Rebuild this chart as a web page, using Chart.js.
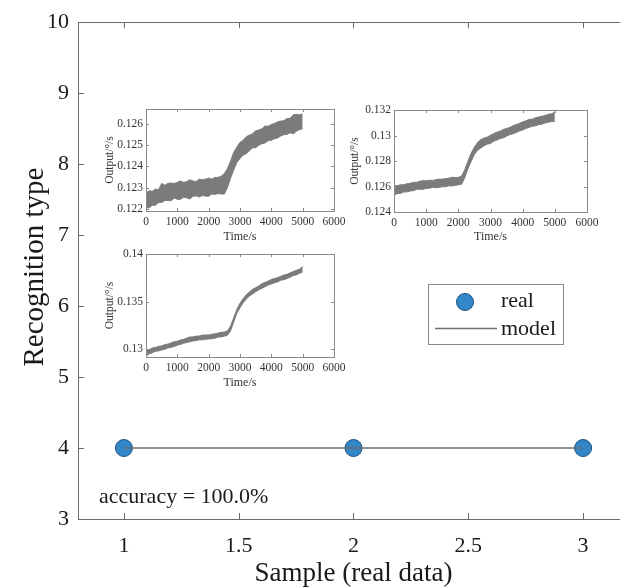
<!DOCTYPE html>
<html><head><meta charset="utf-8">
<script src="https://cdn.jsdelivr.net/npm/chart.js@4.4.1/dist/chart.umd.min.js"></script>
<style>
html,body{margin:0;padding:0;background:#fff;width:620px;height:588px;overflow:hidden;position:relative}
canvas{position:absolute}
</style></head><body>
<canvas id="main" width="640" height="588" style="left:0;top:0"></canvas>
<canvas id="in1" width="270" height="160" style="left:95px;top:95px"></canvas>
<canvas id="in2" width="270" height="160" style="left:345px;top:95px"></canvas>
<canvas id="in3" width="270" height="160" style="left:95px;top:240px"></canvas>
<script>
// ---------- main chart data ----------
const sampleIndex = [1, 2, 3];
const realType = [4, 4, 4];
const modelType = [4, 4, 4];
const xTickValues = [1, 1.5, 2, 2.5, 3];
const yTickValues = [3, 4, 5, 6, 7, 8, 9, 10];
const legendLabels = ['real', 'model'];
const accuracyLabel = 'accuracy = 100.0%';
const xAxisTitle = 'Sample (real data)';
const yAxisTitle = 'Recognition type';

// ---------- inset data (time in s, output in °/s) ----------
const insetTime = [0,100,200,300,400,500,600,700,800,900,1000,1100,1200,1300,1400,1500,1600,1700,1800,1900,2000,2100,2200,2300,2400,2500,2600,2700,2800,2900,3000,3100,3200,3300,3400,3500,3600,3700,3800,3900,4000,4100,4200,4300,4400,4500,4600,4700,4800,4900,5000];
const insetXTicks = [0, 1000, 2000, 3000, 4000, 5000, 6000];

const inset1Center = [0.12240,0.12245,0.12250,0.12255,0.12260,0.12275,0.12275,0.12280,0.12280,0.12285,0.12285,0.12288,0.12290,0.12290,0.12292,0.12295,0.12295,0.12298,0.12300,0.12300,0.12302,0.12305,0.12308,0.12310,0.12312,0.12318,0.12345,0.12385,0.12425,0.12455,0.12475,0.12488,0.12500,0.12510,0.12520,0.12528,0.12535,0.12542,0.12550,0.12555,0.12560,0.12566,0.12572,0.12578,0.12582,0.12588,0.12592,0.12598,0.12605,0.12608,0.12612];
const inset1Spread = [0.00035,0.00040,0.00033,0.00038,0.00030,0.00045,0.00036,0.00040,0.00042,0.00034,0.00040,0.00043,0.00035,0.00038,0.00045,0.00036,0.00034,0.00042,0.00037,0.00040,0.00043,0.00035,0.00040,0.00038,0.00042,0.00048,0.00045,0.00040,0.00042,0.00036,0.00038,0.00035,0.00040,0.00037,0.00033,0.00040,0.00036,0.00035,0.00040,0.00034,0.00037,0.00036,0.00038,0.00035,0.00033,0.00037,0.00034,0.00045,0.00040,0.00035,0.00035];
const inset1YTicks = [0.122, 0.123, 0.124, 0.125, 0.126];

const inset2Center = [0.12570,0.12575,0.12580,0.12585,0.12590,0.12595,0.12600,0.12605,0.12610,0.12612,0.12615,0.12618,0.12620,0.12622,0.12625,0.12628,0.12630,0.12635,0.12638,0.12640,0.12642,0.12650,0.12700,0.12770,0.12830,0.12880,0.12915,0.12935,0.12950,0.12960,0.12970,0.12985,0.12995,0.13005,0.13015,0.13025,0.13035,0.13045,0.13055,0.13065,0.13075,0.13085,0.13095,0.13100,0.13108,0.13115,0.13120,0.13128,0.13135,0.13140,0.13148];
const inset2Spread = [0.00036,0.00031,0.00034,0.00028,0.00032,0.00030,0.00033,0.00028,0.00031,0.00034,0.00030,0.00032,0.00028,0.00031,0.00033,0.00029,0.00032,0.00030,0.00034,0.00031,0.00029,0.00032,0.00031,0.00030,0.00032,0.00029,0.00031,0.00033,0.00030,0.00028,0.00032,0.00030,0.00031,0.00029,0.00033,0.00030,0.00028,0.00032,0.00031,0.00029,0.00032,0.00030,0.00031,0.00028,0.00032,0.00030,0.00031,0.00029,0.00032,0.00030,0.00036];
const inset2YTicks = [0.124, 0.126, 0.128, 0.13, 0.132];

const inset3Center = [0.12960,0.12975,0.12990,0.13000,0.13008,0.13015,0.13025,0.13035,0.13045,0.13055,0.13065,0.13075,0.13085,0.13095,0.13105,0.13110,0.13115,0.13120,0.13125,0.13128,0.13130,0.13135,0.13140,0.13150,0.13155,0.13160,0.13170,0.13220,0.13310,0.13400,0.13460,0.13510,0.13550,0.13580,0.13605,0.13625,0.13645,0.13665,0.13680,0.13695,0.13710,0.13720,0.13730,0.13745,0.13755,0.13765,0.13780,0.13795,0.13805,0.13820,0.13840];
const inset3Spread = [0.00030,0.00022,0.00025,0.00020,0.00024,0.00021,0.00025,0.00020,0.00023,0.00026,0.00021,0.00024,0.00020,0.00023,0.00025,0.00021,0.00024,0.00020,0.00025,0.00022,0.00021,0.00024,0.00023,0.00021,0.00024,0.00022,0.00023,0.00025,0.00022,0.00020,0.00024,0.00022,0.00023,0.00021,0.00025,0.00022,0.00020,0.00024,0.00023,0.00021,0.00024,0.00022,0.00023,0.00020,0.00024,0.00022,0.00023,0.00021,0.00024,0.00022,0.00028];
const inset3YTicks = [0.13, 0.135, 0.14];

const SERIF = "'Liberation Serif', 'Times New Roman', serif";
const AXIS_COLOR = '#6a6a6a';
const MARKER_FILL = '#3287c9';
const MARKER_EDGE = '#1d4e7c';
const LINE_COLOR = '#6e6e6e';

// ---------- main chart ----------
const mainFrame = {
  id: 'mainFrame',
  afterDraw(chart) {
    const ctx = chart.ctx, a = chart.chartArea, xs = chart.scales.x, ys = chart.scales.y;
    ctx.save();
    ctx.strokeStyle = AXIS_COLOR; ctx.lineWidth = 1;
    ctx.strokeRect(Math.round(a.left) + 0.5, Math.round(a.top) + 0.5, Math.round(a.right - a.left), Math.round(a.bottom - a.top));
    ctx.beginPath();
    xTickValues.forEach(v => {
      const px = Math.round(xs.getPixelForValue(v)) + 0.5;
      ctx.moveTo(px, a.bottom); ctx.lineTo(px, a.bottom - 6);
      ctx.moveTo(px, a.top); ctx.lineTo(px, a.top + 6);
    });
    yTickValues.forEach(v => {
      const py = Math.round(ys.getPixelForValue(v)) + 0.5;
      ctx.moveTo(a.left, py); ctx.lineTo(a.left + 6, py);
      ctx.moveTo(a.right, py); ctx.lineTo(a.right - 6, py);
    });
    ctx.stroke();

    // axis titles
    ctx.fillStyle = '#1a1a1a';
    ctx.textAlign = 'center'; ctx.textBaseline = 'middle';
    ctx.font = '27px ' + SERIF;
    ctx.fillText(xAxisTitle, xs.getPixelForValue(2), 574);
    ctx.save();
    ctx.translate(35, ys.getPixelForValue(6.55));
    ctx.rotate(-Math.PI / 2);
    ctx.font = '29px ' + SERIF;
    ctx.fillText(yAxisTitle, 0, 0);
    ctx.restore();

    // accuracy text
    ctx.font = '22px ' + SERIF;
    ctx.textAlign = 'left';
    ctx.fillText(accuracyLabel, 99, 497);

    // legend
    const lx = 428, ly = 284, lw = 135, lh = 60;
    ctx.fillStyle = '#fff';
    ctx.fillRect(lx, ly, lw, lh);
    ctx.strokeStyle = '#8a8a8a';
    ctx.strokeRect(lx + 0.5, ly + 0.5, lw, lh);
    ctx.beginPath();
    ctx.arc(465, 302, 8.5, 0, Math.PI * 2);
    ctx.fillStyle = MARKER_FILL; ctx.fill();
    ctx.strokeStyle = MARKER_EDGE; ctx.lineWidth = 1; ctx.stroke();
    ctx.beginPath();
    ctx.moveTo(435, 328.5); ctx.lineTo(497, 328.5);
    ctx.strokeStyle = LINE_COLOR; ctx.lineWidth = 1.5; ctx.stroke();
    ctx.fillStyle = '#1a1a1a';
    ctx.font = '22px ' + SERIF;
    ctx.textAlign = 'left'; ctx.textBaseline = 'middle';
    ctx.fillText(legendLabels[0], 501, 301);
    ctx.fillText(legendLabels[1], 501, 329);
    ctx.restore();
  }
};

new Chart(document.getElementById('main'), {
  type: 'scatter',
  data: {
    datasets: [
      { label: legendLabels[1], data: sampleIndex.map((x, i) => ({ x, y: modelType[i] })),
        showLine: true, borderColor: LINE_COLOR, borderWidth: 1.5, pointRadius: 0, tension: 0 },
      { label: legendLabels[0], data: sampleIndex.map((x, i) => ({ x, y: realType[i] })),
        showLine: false, pointRadius: 8.5, pointBackgroundColor: MARKER_FILL,
        pointBorderColor: MARKER_EDGE, pointBorderWidth: 1 }
    ]
  },
  options: {
    responsive: false, animation: false, devicePixelRatio: 1,
    layout: { padding: { top: 21, right: 11, left: 0, bottom: 0 } },
    plugins: { legend: { display: false }, tooltip: { enabled: false } },
    scales: {
      x: {
        type: 'linear', min: 0.8, max: 3.2,
        afterBuildTicks: s => { s.ticks = xTickValues.map(v => ({ value: v })); },
        afterFit: s => { s.height = 69; },
        grid: { display: false, drawTicks: false },
        border: { display: false },
        ticks: { font: { family: SERIF, size: 22 }, color: '#1a1a1a', padding: 14, maxRotation: 0,
          callback: v => String(v) }
      },
      y: {
        min: 3, max: 10,
        afterBuildTicks: s => { s.ticks = yTickValues.map(v => ({ value: v })); },
        afterFit: s => { s.width = 78; },
        grid: { display: false, drawTicks: false },
        border: { display: false },
        ticks: { font: { family: SERIF, size: 22 }, color: '#1a1a1a', padding: 9,
          callback: v => String(v) }
      }
    }
  },
  plugins: [mainFrame]
});

// ---------- insets ----------
function insetFrame(titleX, titleXY) {
  return {
    id: 'insetFrame',
    afterDraw(chart) {
      const ctx = chart.ctx, a = chart.chartArea, xs = chart.scales.x, ys = chart.scales.y;
      ctx.save();
      ctx.strokeStyle = '#8a8a8a'; ctx.lineWidth = 1;
      ctx.strokeRect(Math.round(a.left) + 0.5, Math.round(a.top) + 0.5, Math.round(a.right - a.left), Math.round(a.bottom - a.top));
      ctx.beginPath();
      xs.ticks.forEach(t => {
        const px = Math.round(xs.getPixelForValue(t.value)) + 0.5;
        ctx.moveTo(px, a.bottom); ctx.lineTo(px, a.bottom - 3);
        ctx.moveTo(px, a.top); ctx.lineTo(px, a.top + 3);
      });
      ys.ticks.forEach(t => {
        const py = Math.round(ys.getPixelForValue(t.value)) + 0.5;
        ctx.moveTo(a.left, py); ctx.lineTo(a.left + 3, py);
        ctx.moveTo(a.right, py); ctx.lineTo(a.right - 3, py);
      });
      ctx.stroke();
      ctx.fillStyle = '#333';
      ctx.textAlign = 'center'; ctx.textBaseline = 'middle';
      ctx.font = '12px ' + SERIF;
      ctx.fillText('Time/s', (a.left + a.right) / 2, titleXY);
      ctx.save();
      ctx.translate(titleX, (a.top + a.bottom) / 2);
      ctx.rotate(-Math.PI / 2);
      ctx.font = '11.5px ' + SERIF;
      ctx.fillText('Output/°/s', 0, 0);
      ctx.restore();
      ctx.restore();
    }
  };
}

function makeInset(id, center, spread, yMin, yMax, yTicks, spec) {
  const upper = center.map((v, i) => ({ x: insetTime[i], y: v + spread[i] }));
  const lower = center.map((v, i) => ({ x: insetTime[i], y: v - spread[i] }));
  new Chart(document.getElementById(id), {
    type: 'line',
    data: {
      datasets: [
        { data: upper, borderColor: '#7b7b7b', backgroundColor: '#7b7b7b', borderWidth: 1, pointRadius: 0, fill: false, tension: 0 },
        { data: lower, borderColor: '#7b7b7b', backgroundColor: '#7b7b7b', borderWidth: 1, pointRadius: 0, fill: '-1', tension: 0 }
      ]
    },
    options: {
      responsive: false, animation: false, devicePixelRatio: 1,
      layout: { padding: { top: spec.padTop, right: spec.padRight, left: 0, bottom: 0 } },
      plugins: { legend: { display: false }, tooltip: { enabled: false }, filler: { propagate: false } },
      scales: {
        x: {
          type: 'linear', min: 0, max: 6000,
          afterBuildTicks: s => { s.ticks = insetXTicks.map(v => ({ value: v })); },
          afterFit: s => { s.height = spec.xHeight; },
          grid: { display: false, drawTicks: false }, border: { display: false },
          ticks: { font: { family: SERIF, size: 11.5 }, color: '#333', padding: 4, maxRotation: 0, callback: v => String(v) }
        },
        y: {
          min: yMin, max: yMax,
          afterBuildTicks: s => { s.ticks = yTicks.map(v => ({ value: v })); },
          afterFit: s => { s.width = spec.yWidth; },
          grid: { display: false, drawTicks: false }, border: { display: false },
          ticks: { font: { family: SERIF, size: 11.5 }, color: '#333', padding: 3, callback: v => String(v) }
        }
      }
    },
    plugins: [insetFrame(spec.titleX, spec.titleXY)]
  });
}

makeInset('in1', inset1Center, inset1Spread, 0.1219, 0.1267, inset1YTicks,
  { yWidth: 51, xHeight: 44, padTop: 14, padRight: 31, titleX: 15, titleXY: 142 });
makeInset('in2', inset2Center, inset2Spread, 0.124, 0.132, inset2YTicks,
  { yWidth: 49, xHeight: 43, padTop: 15, padRight: 28, titleX: 10, titleXY: 142 });
makeInset('in3', inset3Center, inset3Spread, 0.1292, 0.14, inset3YTicks,
  { yWidth: 51, xHeight: 43, padTop: 14, padRight: 31, titleX: 15, titleXY: 143 });
</script>
</body></html>
